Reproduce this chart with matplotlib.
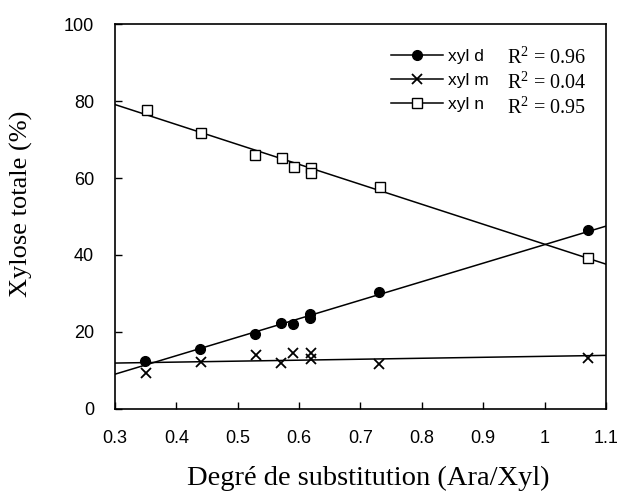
import numpy as np
import matplotlib.pyplot as plt
from matplotlib.ticker import FuncFormatter

# points
x_n = [0.352, 0.441, 0.529, 0.572, 0.591, 0.620, 0.620, 0.731, 1.070]
y_n = [77.7, 71.8, 66.0, 65.3, 62.9, 62.5, 61.2, 57.6, 39.3]

x_d = [0.349, 0.439, 0.529, 0.570, 0.590, 0.618, 0.618, 0.730, 1.070]
y_d = [12.5, 15.6, 19.5, 22.3, 22.1, 24.7, 23.6, 30.3, 46.5]

x_m = [0.350, 0.440, 0.530, 0.570, 0.590, 0.620, 0.620, 0.730, 1.070]
y_m = [9.3, 12.1, 14.0, 12.0, 14.5, 14.5, 12.9, 11.7, 13.2]

# regression lines read at both ends of the axis
fit_x = [0.3, 1.1]
fit_d = [9.0, 47.5]
fit_m = [11.9, 13.9]
fit_n = [79.1, 37.6]

labels = ['xyl d', 'xyl m', 'xyl n']
r2 = ['0.96', '0.04', '0.95']

fig = plt.figure(figsize=(6.21, 4.92), dpi=100)
ax = fig.add_axes([0.185, 0.169, 0.791, 0.782])

lw = 1.1
ax.plot(fit_x, fit_d, color='black', lw=lw)
ax.plot(fit_x, fit_m, color='black', lw=lw)
ax.plot(fit_x, fit_n, color='black', lw=lw)
ax.plot(x_d, y_d, 'o', color='black', ms=7, ls='none')
ax.plot(x_m, y_m, 'x', color='black', ms=7, mew=1.3, ls='none')
ax.plot(x_n, y_n, 's', mfc='white', mec='black', ms=7.5, mew=1.0, ls='none')

# legend handles: line with marker in the middle
h_d, = ax.plot([], [], '-o', color='black', lw=lw, ms=7)
h_m, = ax.plot([], [], '-x', color='black', lw=lw, ms=7, mew=1.3)
h_n, = ax.plot([], [], '-s', color='black', lw=lw, mfc='white', ms=6.5, mew=1.0)
leg = ax.legend([h_d, h_m, h_n], labels, loc='upper left',
                bbox_to_anchor=(0.53, 0.977), frameon=False, handlelength=3.0,
                handletextpad=0.3, labelspacing=0.52,
                prop={'family': 'Liberation Sans', 'size': 12.5})

for i, r in enumerate(r2):
    ax.text(0.798, 0.912 - i * 0.065, '$\\mathregular{R^2}$ = ' + r,
            transform=ax.transAxes, family='Liberation Serif', fontsize=14.5,
            va='center', ha='left')

ax.set_xlim(0.3, 1.1)
ax.set_ylim(0, 100)
ax.set_xticks(np.arange(0.3, 1.15, 0.1))
ax.set_yticks(np.arange(0, 101, 20))
ax.xaxis.set_major_formatter(FuncFormatter(lambda v, p: '%g' % round(v, 1)))
ax.tick_params(direction='in', length=5, width=1, labelsize=13)
ax.tick_params(axis='x', pad=15)
ax.tick_params(axis='y', pad=15)
for lab in ax.get_xticklabels() + ax.get_yticklabels():
    lab.set_family('Liberation Sans')
for s in ax.spines.values():
    s.set_linewidth(1.2)

ax.set_xlabel('Degré de substitution (Ara/Xyl)', family='Liberation Serif',
              fontsize=20.5)
ax.set_ylabel('Xylose totale (%)', family='Liberation Serif', fontsize=19)
ax.xaxis.set_label_coords(0.515, -0.148)
ax.yaxis.set_label_coords(-0.167, 0.534)

fig.savefig('out.png', dpi=100)
